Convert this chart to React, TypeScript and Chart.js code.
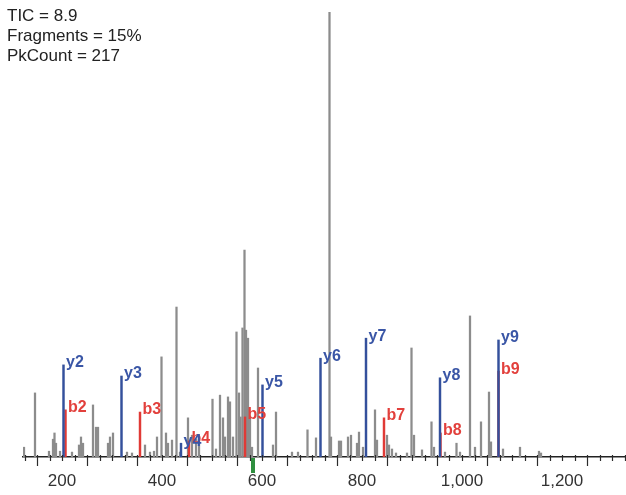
import React, { useEffect, useRef } from "react";
import { Chart, registerables } from "chart.js";

Chart.register(...registerables);

// ---- data ----
const statLines = ["TIC = 8.9", "Fragments = 15%", "PkCount = 217"];

const grayMz = [
  124, 146, 174, 182, 185, 188, 196, 220, 234, 238, 242, 262, 268, 272, 292, 296, 302,
  330, 340, 366, 376, 384, 390, 399, 408, 412, 420, 429, 436, 452, 460, 468, 474,
  501, 508, 516, 522, 526, 532, 536, 542, 549, 554, 557, 561, 565, 568, 572, 576, 580,
  592, 622, 628, 660, 672, 691, 708, 735, 738, 754, 758, 772, 778, 790, 794, 802,
  826, 830, 850, 854, 860, 868, 890, 899, 904, 920, 939, 944, 966, 989, 996,
  1016, 1026, 1038, 1054, 1058, 1082, 1116, 1154, 1158,
];
const grayIntensity = [
  2.2, 14.4, 1.3, 4.0, 5.4, 3.1, 1.3, 1.1, 2.7, 4.5, 3.1, 11.7, 6.7, 6.7, 3.1, 4.5, 5.4,
  1.1, 0.9, 2.7, 1.1, 1.3, 4.5, 22.5, 5.4, 3.1, 3.8, 33.7, 1.1, 8.8, 4.9, 4.0, 3.6,
  13.0, 1.8, 13.9, 8.8, 4.5, 13.5, 12.4, 4.5, 28.1, 14.4, 9.0, 29.0, 46.5, 28.5, 26.7, 9.0, 2.2,
  20.0, 2.7, 10.1, 1.1, 1.1, 6.1, 4.3, 100, 4.5, 3.6, 3.6, 4.5, 4.9, 3.1, 5.6, 2.2,
  10.6, 3.8, 4.9, 2.7, 1.8, 0.9, 0.9, 24.5, 4.9, 1.6, 7.9, 2.2, 1.1, 3.1, 1.1,
  31.7, 2.2, 7.9, 14.6, 3.4, 1.8, 2.2, 1.3, 0.9,
];

const yIonLabels = ["y2", "y3", "y4", "y5", "y6", "y7", "y8", "y9"];
const yIonMz = [203, 319, 438, 601, 717, 808, 956, 1073];
const yIonIntensity = [20.7, 18.2, 3.1, 16.2, 22.2, 26.7, 17.8, 26.3];

const bIonLabels = ["b2", "b3", "b4", "b5", "b7", "b8", "b9"];
const bIonMz = [207, 356, 454, 566, 844, 957, 1073];
const bIonIntensity = [10.6, 10.1, 3.6, 9.0, 8.8, 5.4, 19.3];

const precursorMz = 582;

const xMin = 122;
const xMax = 1328;
const xLabelValues = [200, 400, 600, 800, 1000, 1200];
const minorTickStep = 25;
const majorTickOffset = 150;
const majorTickStep = 100;

const FONT = "'Liberation Sans', Arial, Helvetica, sans-serif";
const GRAY = "#8c8c8c";
const BLUE = "#34509c";
const RED = "#e03a36";
const BLUE_TXT = "#3a56a6";
const RED_TXT = "#e2403c";

const toPts = (xs: number[], ys: number[]) => xs.map((x, i) => ({ x, y: ys[i] }));

const overlayPlugin = {
  id: "overlay",
  afterDatasetsDraw(chart: any) {
    const ctx = chart.ctx;
    const xs = chart.scales.x;
    // ion labels
    ctx.save();
    ctx.font = `bold 16px ${FONT}`;
    ctx.textBaseline = "middle";
    ctx.textAlign = "left";
    const drawLabels = (dsIndex: number, labels: string[], color: string) => {
      const meta = chart.getDatasetMeta(dsIndex);
      ctx.fillStyle = color;
      meta.data.forEach((el: any, i: number) => {
        ctx.fillText(labels[i], el.x + 2.5, el.y - 2);
      });
    };
    drawLabels(1, bIonLabels, RED_TXT);
    drawLabels(2, yIonLabels, BLUE_TXT);
    ctx.restore();
  },
  afterDraw(chart: any) {
    const ctx = chart.ctx;
    const xs = chart.scales.x;
    const axisY = xs.top;
    ctx.save();
    // tick marks
    ctx.strokeStyle = "#2a2a2a";
    ctx.lineWidth = 1.2;
    for (let v = xMin + ((minorTickStep - ((xMin - majorTickOffset) % minorTickStep + minorTickStep) % minorTickStep) % minorTickStep); v <= xMax; v += minorTickStep) {
      const px = Math.round(xs.getPixelForValue(v)) + 0.5;
      const isMajor = ((v - majorTickOffset) % majorTickStep + majorTickStep) % majorTickStep === 0;
      ctx.beginPath();
      ctx.moveTo(px, axisY - 2);
      ctx.lineTo(px, axisY + (isMajor ? 9 : 4));
      ctx.stroke();
    }
    // precursor marker
    const pp = xs.getPixelForValue(precursorMz);
    ctx.fillStyle = "#2f8f3f";
    ctx.fillRect(pp - 2, axisY + 1, 4, 15);
    // stats text
    ctx.fillStyle = "#222";
    ctx.font = `17px ${FONT}`;
    ctx.textBaseline = "alphabetic";
    ctx.textAlign = "left";
    statLines.forEach((s, i) => ctx.fillText(s, 7, 21 + i * 20));
    ctx.restore();
  },
};

export default function App() {
  const ref = useRef<HTMLCanvasElement | null>(null);
  useEffect(() => {
    if (!ref.current) return;
    const chart = new Chart(ref.current, {
      type: "bar",
      data: {
        datasets: [
          {
            label: "peaks",
            data: toPts(grayMz, grayIntensity),
            backgroundColor: GRAY,
            barThickness: 1.6,
            grouped: false,
            order: 3,
          } as any,
          {
            label: "b ions",
            data: toPts(bIonMz, bIonIntensity),
            backgroundColor: RED,
            barThickness: 1.8,
            grouped: false,
            order: 2,
          } as any,
          {
            label: "y ions",
            data: toPts(yIonMz, yIonIntensity),
            backgroundColor: BLUE,
            barThickness: 1.8,
            grouped: false,
            order: 1,
          } as any,
        ],
      },
      options: {
        animation: false,
        responsive: false,
        devicePixelRatio: 1,
        layout: { padding: { left: 23, right: 0, top: 12, bottom: 0 } },
        plugins: { legend: { display: false }, tooltip: { enabled: false }, title: { display: false } },
        scales: {
          x: {
            type: "linear",
            min: xMin,
            max: xMax,
            offset: false,
            grid: { display: true, drawOnChartArea: false, drawTicks: false },
            border: { display: true, color: "#222", width: 1.5 },
            afterBuildTicks: (scale: any) => {
              scale.ticks = xLabelValues.map((v) => ({ value: v }));
            },
            afterFit: (scale: any) => {
              scale.height = 38;
              scale.paddingLeft = 0;
              scale.paddingRight = 0;
            },
            ticks: {
              autoSkip: false,
              maxRotation: 0,
              padding: 14,
              color: "#333",
              font: { family: FONT, size: 17 },
              callback: (v: any) => Number(v).toLocaleString("en-US"),
            },
          },
          y: { display: false, min: 0, max: 100 },
        },
      },
      plugins: [overlayPlugin],
    });
    return () => chart.destroy();
  }, []);
  return (
    <canvas
      ref={ref}
      width={626}
      height={495}
      style={{ position: "absolute", left: 0, top: 0, display: "block", background: "#fff" }}
    />
  );
}
